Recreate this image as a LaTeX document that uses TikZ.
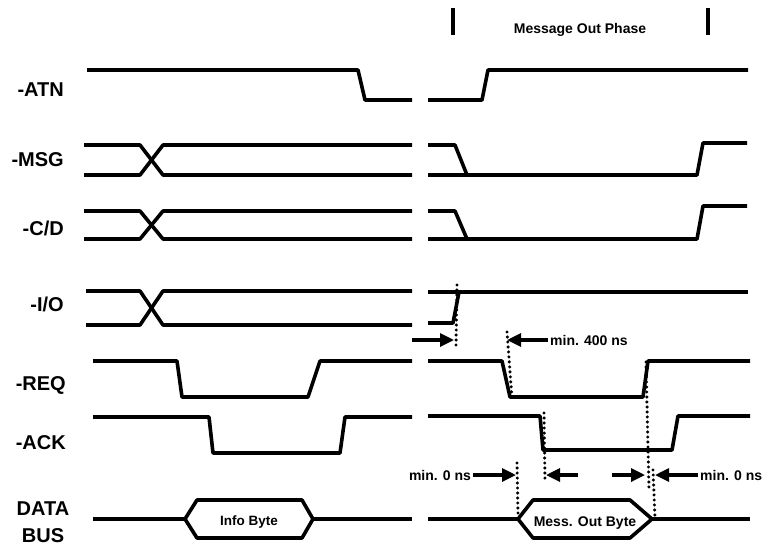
\documentclass[tikz,border=0pt]{standalone}
\usepackage{fontspec}
\setmainfont{Liberation Sans}
\usetikzlibrary{arrows.meta,positioning}

\begin{document}
\begin{tikzpicture}[x=1pt,y=-1pt,
  wave/.style={line width=3.6pt,line join=round},
  sig/.style={font=\bfseries\fontsize{20}{23}\selectfont,anchor=east,inner sep=0pt},
  note/.style={font=\bfseries\fontsize{14}{16}\selectfont,inner sep=2pt},
  guide/.style={line width=3.4pt,line cap=round,dash pattern=on 0pt off 5pt},
  tick/.style={-{Triangle[length=14pt,width=13pt]},line width=3.2pt}]
  \useasboundingbox (0,0) rectangle (765,547);
  \node[sig] (atn) at (64,90) {-ATN};
  \node[sig] (msg) at (64,160) {-MSG};
  \node[sig] (cd) at (64,228) {-C/D};
  \node[sig] (io) at (64,304) {-I/O};
  \node[sig] (req) at (66,385) {-REQ};
  \node[sig] (ack) at (66,443) {-ACK};
  \node[sig,anchor=center,align=center,font=\bfseries\fontsize{20}{27}\selectfont] (bus) at (43,522) {DATA\\BUS};
  \draw[wave] (453,8) -- (453,35);
  \draw[wave] (708,8) -- (708,35);
  \node[note] (phase) at (580,30) {Message Out Phase};
  \draw[wave] (87,70) -- (358,70) -- (365,100) -- (412,100);
  \draw[wave] (428,100) -- (482,100) -- (488,70) -- (748,70);
  \draw[wave] (84,145) -- (140,145) -- (163,175) -- (412,175);
  \draw[wave] (84,175) -- (140,175) -- (163,145) -- (412,145);
  \draw[wave] (428,145) -- (455,145) -- (467,175);
  \draw[wave] (428,175) -- (697,175) -- (703,143) -- (747,143);
  \draw[wave] (84,211) -- (140,211) -- (163,239) -- (412,239);
  \draw[wave] (84,239) -- (140,239) -- (163,211) -- (412,211);
  \draw[wave] (428,211) -- (455,211) -- (467,239);
  \draw[wave] (428,239) -- (697,239) -- (703,206) -- (747,206);
  \draw[wave] (86,291) -- (140,291) -- (163,325) -- (412,325);
  \draw[wave] (86,325) -- (140,325) -- (163,291) -- (412,291);
  \draw[wave] (428,292) -- (748,292);
  \draw[wave] (428,323) -- (453,323) -- (459,292);
  \draw[wave] (93,361) -- (177,361) -- (182,397) -- (308,397) -- (320,361) -- (412,361);
  \draw[wave] (428,361) -- (502,361) -- (510,397) -- (643,397) -- (648,361) -- (750,361);
  \draw[wave] (93,417) -- (209,417) -- (213,453) -- (340,453) -- (345,417) -- (412,417);
  \draw[wave] (428,416) -- (540,416) -- (543,450) -- (672,450) -- (678,416) -- (750,416);
  \draw[wave] (93,519) -- (185,519) (313,519) -- (412,519);
  \draw[wave] (185,519) -- (197,500) -- (302,500) -- (313,519) -- (302,538) -- (197,538) -- cycle;
  \node[note,font=\bfseries\fontsize{13.5}{16}\selectfont] (info) at (249,522) {Info Byte};
  \draw[wave] (428,519) -- (518,519) (652,519) -- (750,519);
  \draw[wave] (518,519) -- (533,500) -- (630,500) -- (652,519) -- (630,538) -- (533,538) -- cycle;
  \node[note] (mess) at (585,523) {Mess. Out Byte};
  \draw[guide] (457,285) -- (456,346);
  \draw[guide] (507,332) -- (512,398);
  \draw[guide] (544,413) -- (545,482);
  \draw[guide] (646,362) -- (649,490);
  \draw[guide] (653,470) -- (655,518);
  \draw[guide] (517,463) -- (518,515);
  \coordinate (iotail) at (412,340);
  \coordinate (iotip) at (454,340);
  \draw[tick] (iotail) -- (iotip);
  \node[note,anchor=west] (t400) at (548,340) {min. 400 ns};
  \coordinate (reqtip) at (507,340);
  \draw[tick] (t400.west) -- (reqtip);
  \node[note] (t0a) at (440,475) {min. 0 ns};
  \coordinate (buslo) at (516,475);
  \draw[tick] (t0a.east) -- (buslo);
  \coordinate (acktail) at (578,475);
  \coordinate (acktip) at (546,475);
  \draw[tick] (acktail) -- (acktip);
  \coordinate (reqtail) at (612,475);
  \coordinate (reqhi) at (645,475);
  \draw[tick] (reqtail) -- (reqhi);
  \node[note,anchor=west] (t0b) at (698,475) {min. 0 ns};
  \coordinate (bushi) at (655,475);
  \draw[tick] (t0b.west) -- (bushi);
\end{tikzpicture}
\end{document}
